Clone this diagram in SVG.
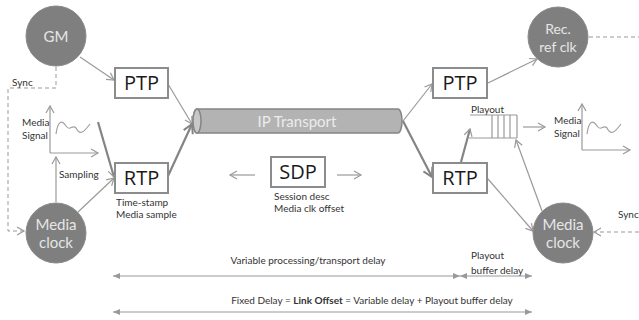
<svg xmlns="http://www.w3.org/2000/svg" width="639" height="320" viewBox="0 0 639 320">
<defs>
<style>
.node circle{fill:#7f7f7f;stroke:#8a8a8a;stroke-width:1}
.ctext{fill:#e6e6e6;font-family:Lato,"Open Sans",sans-serif;text-anchor:middle}
.box{fill:#fff;stroke:#8c8c8c;stroke-width:2}
.btext{fill:#1a1a1a;font-family:"Open Sans",Lato,sans-serif;font-size:20px;text-anchor:middle}
.lbl{fill:#333;font-family:Lato,"Open Sans",sans-serif;font-size:10px}
.thin{stroke:#9a9a9a;stroke-width:1.2;fill:none}
.thick{stroke:#848484;stroke-width:2.2;fill:none}
.dash{stroke:#999;stroke-width:1;stroke-dasharray:4 3;fill:none}
.axis{stroke:#9a9a9a;stroke-width:1.2;fill:none}
.dim{stroke:#999;stroke-width:1.2;fill:none}
</style>
<marker id="ah" markerWidth="10" markerHeight="10" refX="8" refY="5" orient="auto" markerUnits="userSpaceOnUse">
<path d="M1,1 L8,5 L1,9" fill="none" stroke="#9a9a9a" stroke-width="1.2"/>
</marker>
<marker id="ahk" markerWidth="12" markerHeight="12" refX="10" refY="6" orient="auto" markerUnits="userSpaceOnUse">
<path d="M1,1 L10,6 L1,11" fill="none" stroke="#848484" stroke-width="2"/>
</marker>
<marker id="dh" markerWidth="8" markerHeight="6" refX="7" refY="3" orient="auto-start-reverse" markerUnits="userSpaceOnUse">
<path d="M0,0 L7,3 L0,6 z" fill="#999"/>
</marker>
</defs>

<g id="connectors">
<!-- sync left -->
<path class="dash" d="M56,67 V88 H8 V231 H24" marker-end="url(#ah)"/>
<!-- sync right -->
<path class="dash" d="M639,232 H594" marker-end="url(#ah)"/>
<!-- ref clk dashed -->
<path class="dash" d="M589,37 H639"/>
<!-- GM to PTP -->
<line class="thin" x1="80" y1="57" x2="114" y2="80" marker-end="url(#ah)"/>
<!-- PTP to tube -->
<line class="thin" x1="168" y1="84" x2="192" y2="124" marker-end="url(#ah)"/>
<!-- RTP to tube -->
<line class="thick" x1="168" y1="176" x2="192" y2="124" marker-end="url(#ahk)"/>
<!-- signal to RTP -->
<line class="thick" x1="98" y1="122" x2="114" y2="177" marker-end="url(#ah)"/>
<!-- media clock to RTP -->
<line class="thin" x1="78" y1="212" x2="114" y2="178" marker-end="url(#ah)"/>
<!-- sampling -->
<line class="thin" x1="56" y1="202" x2="56" y2="157" marker-end="url(#ah)"/>
<!-- tube to right PTP -->
<line class="thin" x1="403" y1="121" x2="432" y2="84" marker-end="url(#ah)"/>
<!-- tube to right RTP -->
<line class="thick" x1="403" y1="121" x2="432" y2="177" marker-end="url(#ahk)"/>
<!-- PTP to Rec ref clk -->
<line class="thin" x1="488" y1="83" x2="537" y2="59" marker-end="url(#ah)"/>
<!-- RTP to playout -->
<line class="thick" x1="461" y1="162" x2="470" y2="129" marker-end="url(#ah)"/>
<!-- RTP to media clock right -->
<line class="thin" x1="488" y1="179" x2="533" y2="231" marker-end="url(#ah)"/>
<!-- media clock to buffer -->
<line class="thin" x1="542" y1="211" x2="516" y2="140" marker-end="url(#ah)"/>
<!-- buffer out -->
<line class="thin" x1="523" y1="127" x2="545" y2="127" marker-end="url(#ah)"/>
<!-- SDP arrows -->
<line class="thin" x1="255" y1="175" x2="230" y2="175" marker-end="url(#ah)"/>
<line class="thin" x1="337" y1="175" x2="361" y2="175" marker-end="url(#ah)"/>
</g>

<g id="gm" class="node">
<circle cx="56" cy="36" r="30"/>
<text class="ctext" x="56" y="42" font-size="15">GM</text>
</g>

<g id="media-clock-left" class="node">
<circle cx="56" cy="233" r="30"/>
<text class="ctext" x="56" y="230" font-size="15">Media</text>
<text class="ctext" x="56" y="248" font-size="15">clock</text>
</g>

<g id="rec-ref-clk" class="node">
<circle cx="558" cy="37" r="30"/>
<text class="ctext" x="558" y="34" font-size="14">Rec.</text>
<text class="ctext" x="558" y="52" font-size="14">ref clk</text>
</g>

<g id="media-clock-right" class="node">
<circle cx="563" cy="233" r="30"/>
<text class="ctext" x="563" y="230" font-size="15">Media</text>
<text class="ctext" x="563" y="248" font-size="15">clock</text>
</g>

<g id="ptp-left">
<rect class="box" x="115" y="68" width="53" height="30"/>
<text class="btext" x="141.5" y="90">PTP</text>
</g>

<g id="rtp-left">
<rect class="box" x="115" y="163" width="53" height="30"/>
<text class="btext" x="141.5" y="185">RTP</text>
<text class="lbl" x="116" y="206">Time-stamp</text>
<text class="lbl" x="116" y="218">Media sample</text>
</g>

<g id="ptp-right">
<rect class="box" x="433" y="68" width="54" height="30"/>
<text class="btext" x="460" y="90">PTP</text>
</g>

<g id="rtp-right">
<rect class="box" x="433" y="163" width="54" height="30"/>
<text class="btext" x="460" y="185">RTP</text>
</g>

<g id="sdp">
<rect class="box" x="271" y="157" width="54" height="30"/>
<text class="btext" x="298" y="179">SDP</text>
<text class="lbl" x="274" y="200">Session desc</text>
<text class="lbl" x="274" y="212">Media clk offset</text>
</g>

<g id="ip-transport">
<path d="M197,109 H398 A4,12 0 0 1 398,133 H197 A4,12 0 0 1 197,109 z" fill="#b3b3b3" stroke="#858585" stroke-width="1.5"/>
<ellipse cx="197" cy="121" rx="4" ry="12" fill="#c8c8c8" stroke="#858585" stroke-width="1.5"/>
<text x="297" y="127" fill="#ececec" font-family="Lato,'Open Sans',sans-serif" font-size="15" text-anchor="middle">IP Transport</text>
</g>

<g id="media-signal-left">
<path class="axis" d="M50,153 V106" marker-end="url(#ah)"/>
<path class="axis" d="M50,153 H98" marker-end="url(#ah)"/>
<path d="M56,134 C58,120 62,120 66,126 C70,132 72,124 76,128 C80,136 84,132 90,124" fill="none" stroke="#a0a0a0" stroke-width="1.2"/>
<text class="lbl" x="22" y="126">Media</text>
<text class="lbl" x="22" y="139">Signal</text>
<text class="lbl" x="59" y="178">Sampling</text>
<text class="lbl" x="12" y="86">Sync</text>
</g>

<g id="playout-buffer">
<path d="M470,115 H517 M469,138 H517 M492,115 V138 M498,115 V138 M504,115 V138 M510,115 V138 M517,115 V138" stroke="#9a9a9a" stroke-width="1.2" fill="none"/>
<text class="lbl" x="471" y="113" font-size="9">Playout</text>
</g>

<g id="media-signal-right">
<path class="axis" d="M582,150 V104" marker-end="url(#ah)"/>
<path class="axis" d="M582,150 H630" marker-end="url(#ah)"/>
<path d="M587,134 C589,120 593,120 597,126 C601,132 603,124 607,128 C611,136 615,132 621,124" fill="none" stroke="#a0a0a0" stroke-width="1.2"/>
<text class="lbl" x="554" y="124">Media</text>
<text class="lbl" x="554" y="137">Signal</text>
<text class="lbl" x="618" y="218">Sync</text>
</g>

<g id="delays">
<line class="dim" x1="113" y1="276" x2="460" y2="276" marker-start="url(#dh)" marker-end="url(#dh)"/>
<line class="dim" x1="460" y1="276" x2="532" y2="276" marker-start="url(#dh)" marker-end="url(#dh)"/>
<text class="lbl" x="308" y="264" text-anchor="middle">Variable processing/transport delay</text>
<text class="lbl" x="471" y="259">Playout</text>
<text class="lbl" x="471" y="274">buffer delay</text>
<line class="dim" x1="113" y1="312" x2="532" y2="312" marker-start="url(#dh)" marker-end="url(#dh)"/>
<text class="lbl" x="372" y="304" text-anchor="middle">Fixed Delay = <tspan font-weight="bold">Link Offset</tspan> = Variable delay + Playout buffer delay</text>
</g>
</svg>
